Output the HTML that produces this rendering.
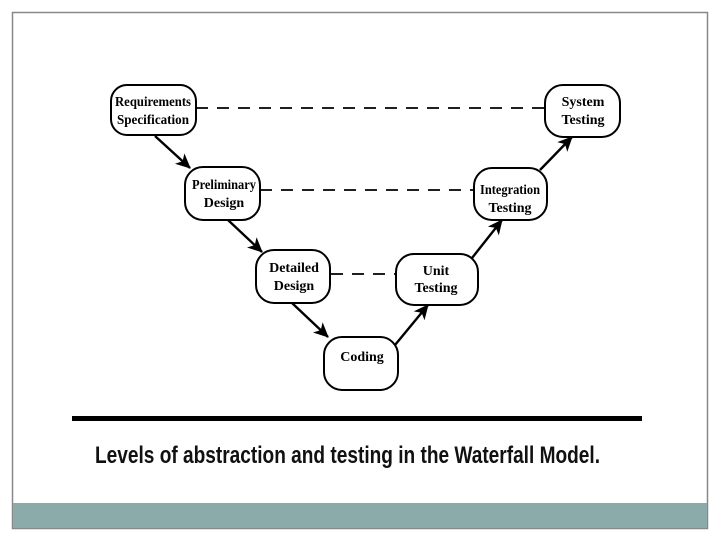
<!DOCTYPE html>
<html><head><style>
html,body{margin:0;padding:0;background:#fff;width:720px;height:540px;overflow:hidden}
</style></head><body>
<svg width="720" height="540" viewBox="0 0 720 540" xmlns="http://www.w3.org/2000/svg">
<defs>
<marker id="a" markerWidth="16" markerHeight="16" refX="14" refY="7" orient="auto" markerUnits="userSpaceOnUse" viewBox="0 0 16 14">
<path d="M0,0 L15,7 L0,14 L4,7 Z" fill="#000"/>
</marker>
</defs>
<rect x="12.5" y="12.5" width="695" height="516" fill="#fff" stroke="#888" stroke-width="1.5"/>
<rect x="13" y="503" width="694" height="25" fill="#8aabaa"/>
<g stroke="#000" stroke-width="1.8" stroke-dasharray="12,9" fill="none">
<line x1="196" y1="108" x2="545" y2="108"/>
<line x1="260" y1="190" x2="474" y2="190"/>
<line x1="331" y1="274" x2="396" y2="274"/>
</g>
<g stroke="#000" stroke-width="2.4" fill="none" marker-end="url(#a)">
<line x1="155" y1="136" x2="190" y2="168"/>
<line x1="228" y1="220" x2="262" y2="252"/>
<line x1="292" y1="303" x2="328" y2="337"/>
<line x1="395" y1="345" x2="428" y2="305"/>
<line x1="472" y1="258" x2="502" y2="220"/>
<line x1="540" y1="170" x2="572" y2="137"/>
</g>
<g stroke="#000" stroke-width="2" fill="#fff">
<rect x="111" y="85" width="85" height="50" rx="16"/>
<rect x="545" y="85" width="75" height="52" rx="18"/>
<rect x="185" y="167" width="75" height="53" rx="18"/>
<rect x="474" y="168" width="73" height="52" rx="18"/>
<rect x="256" y="250" width="74" height="53" rx="18"/>
<rect x="396" y="254" width="82" height="51" rx="18"/>
<rect x="324" y="337" width="74" height="53" rx="18"/>
</g>
<g font-family="Liberation Serif, serif" font-size="14" text-anchor="middle" fill="#000" font-weight="bold">
<text x="153" y="106" textLength="76" lengthAdjust="spacingAndGlyphs">Requirements</text>
<text x="153" y="124" textLength="72" lengthAdjust="spacingAndGlyphs">Specification</text>
<text x="583" y="106">System</text>
<text x="583" y="124">Testing</text>
<text x="224" y="189" textLength="64" lengthAdjust="spacingAndGlyphs">Preliminary</text>
<text x="224" y="207">Design</text>
<text x="510" y="194" textLength="60" lengthAdjust="spacingAndGlyphs">Integration</text>
<text x="510" y="212">Testing</text>
<text x="294" y="272">Detailed</text>
<text x="294" y="290">Design</text>
<text x="436" y="275">Unit</text>
<text x="436" y="292">Testing</text>
<text x="362" y="361">Coding</text>
</g>
<rect x="72" y="416" width="570" height="5" fill="#000"/>
<text x="95" y="463" font-family="Liberation Sans, sans-serif" font-size="24" font-weight="bold" fill="#111" textLength="505" lengthAdjust="spacingAndGlyphs">Levels of abstraction and testing in the Waterfall Model.</text>
</svg>
</body></html>
